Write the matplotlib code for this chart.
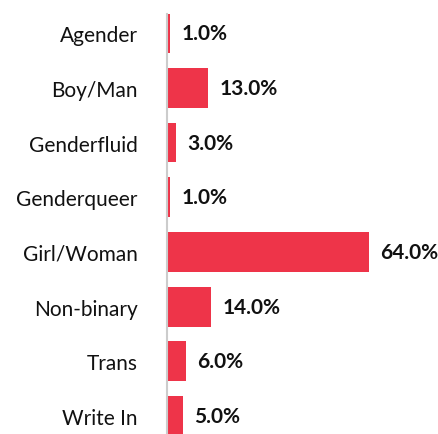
import matplotlib.pyplot as plt
import numpy as np

plt.rcParams['font.family'] = ['Lato', 'DejaVu Sans']

categories = ['Agender', 'Boy/Man', 'Genderfluid', 'Genderqueer',
              'Girl/Woman', 'Non-binary', 'Trans', 'Write In']
values = [1.0, 13.0, 3.0, 1.0, 64.0, 14.0, 6.0, 5.0]

fig = plt.figure(figsize=(4.38, 4.35), dpi=100)
ax = fig.add_axes([167 / 438, 0, 1 - 167 / 438, 1 - 15 / 435])

y = np.arange(len(categories))
ax.barh(y, values, height=0.73, color='#EE3449')

for yi, v in zip(y, values):
    ax.text(v + 3.5, yi, f'{v:.1f}%', va='center', ha='left',
            fontsize=15, fontweight='bold', color='#111111')

ax.set_yticks(y)
ax.set_yticklabels(categories, fontsize=15, color='#111111')
ax.tick_params(axis='y', length=0, pad=21)
ax.set_xticks([])
ax.set_xlim(0, 85.8)
ax.set_ylim(7.33, -0.35)

for s in ['top', 'right', 'bottom']:
    ax.spines[s].set_visible(False)
ax.spines['left'].set_color('#cccccc')
ax.spines['left'].set_linewidth(1.5)

fig.savefig('out.png', dpi=100)
